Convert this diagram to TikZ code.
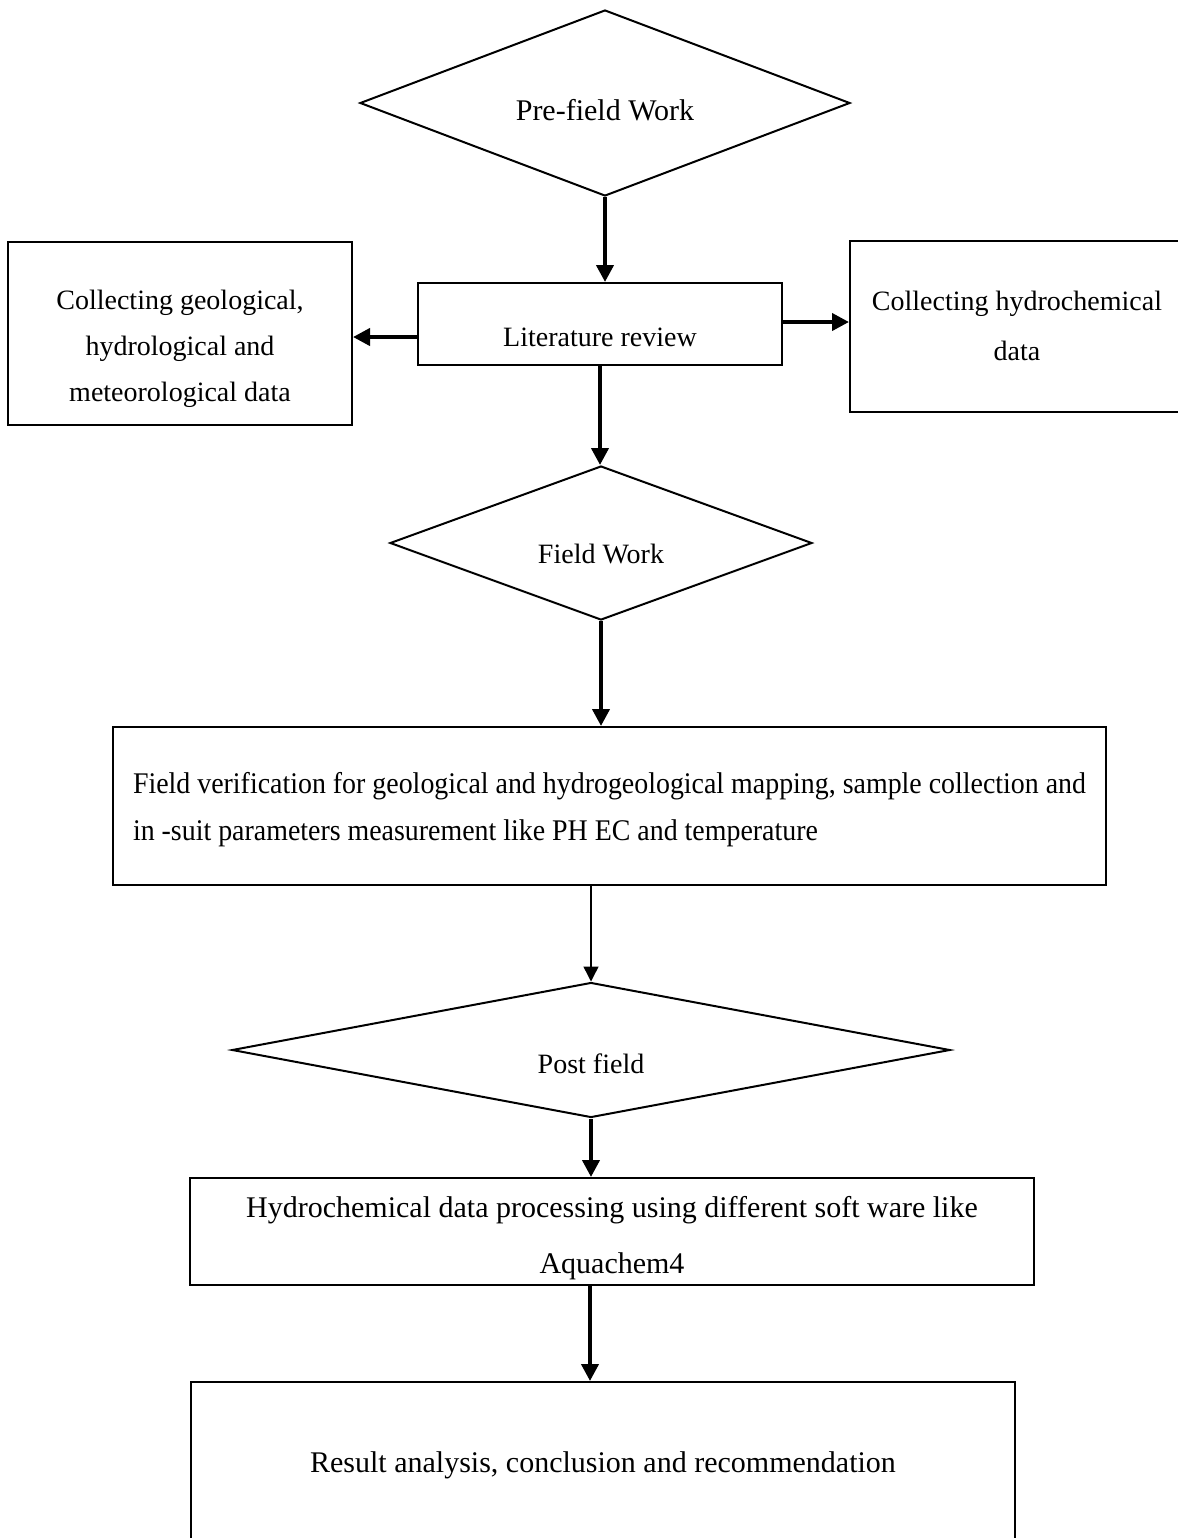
\documentclass[tikz,border=0pt]{standalone}
\usepackage{fontspec}
\setmainfont{Liberation Serif}
\newfontfamily\narrowfont[FakeStretch=0.93]{Liberation Serif}
\usetikzlibrary{shapes.geometric,arrows.meta}

\tikzset{
  box/.style={draw, line width=1pt, rectangle, inner sep=0pt, font=\fontsize{14}{23}\selectfont},
  decision/.style={draw, line width=1pt, diamond, inner sep=0pt, font=\fontsize{14}{23}\selectfont},
  arrow/.style={line width=2pt, -{Triangle[width=8.5pt,length=8.5pt]}},
  thinarrow/.style={line width=0.7pt, -{Triangle[width=7.5pt,length=7.5pt]}}
}

\begin{document}
\begin{tikzpicture}[x=0.5pt,y=-0.5pt]
  \useasboundingbox (0,0) rectangle (1178,1538);
  \clip (0,0) rectangle (1178,1538);
  \node[decision, aspect=2.6, minimum width=245pt, minimum height=93pt, text height=17.8pt, text depth=0pt, font=\fontsize{15}{18}\selectfont] (prefield) at (605,103) {Pre-field Work};
  \node[box, minimum width=182pt, minimum height=41pt, text height=22.4pt, text depth=0pt] (lit) at (600,324) {Literature review};
  \node[box, minimum width=172pt, minimum height=91.5pt, align=center] (geo) at (180,333.5) {\rule{0pt}{24.6pt}Collecting geological,\\hydrological and\\meteorological data};
  \node[box, minimum width=167pt, minimum height=85.5pt, align=center, font=\fontsize{14}{25}\selectfont] (hydro) at (1017,326) {Collecting hydrochemical\\data};
  \node[decision, aspect=2.74, minimum width=211pt, minimum height=77pt, text height=20.4pt, text depth=0pt] (field) at (601,543) {Field Work};
  \node[box, minimum width=496.5pt, minimum height=79pt, align=left, font=\narrowfont\fontsize{15}{23.5}\selectfont] (verify) at (609.5,806) {\rule{0pt}{14.2pt}Field verification for geological and hydrogeological mapping, sample collection and\\in -suit parameters measurement like PH EC and temperature};
  \node[decision, aspect=5.3, minimum width=359pt, minimum height=67.5pt, text height=23.4pt, text depth=0pt] (post) at (591,1050) {Post field};
  \node[box, minimum width=422pt, minimum height=53.5pt, align=center, font=\fontsize{15}{28}\selectfont] (process) at (612,1231.5) {\rule{0pt}{17.2pt}Hydrochemical data processing using different soft ware like\\Aquachem4};
  \node[box, minimum width=412pt, minimum height=89pt, text height=1.8pt, text depth=0pt, font=\fontsize{15}{18}\selectfont] (result) at (603,1471) {Result analysis, conclusion and recommendation};

  \draw[arrow] (prefield.south) -- (prefield.south |- lit.north);
  \draw[arrow] ([yshift=-6.5pt]lit.west) -- ([yshift=-6.5pt]lit.west -| geo.east);
  \draw[arrow] ([yshift=1pt]lit.east) -- ([yshift=1pt]lit.east -| hydro.west);
  \draw[arrow] (lit.south) -- (lit.south |- field.north);
  \draw[arrow] (field.south) -- (field.south |- verify.north);
  \draw[thinarrow] (verify.south -| post.north) -- (post.north);
  \draw[arrow] (post.south) -- (post.south |- process.north);
  \draw[arrow] ([xshift=-11pt]process.south) -- ([xshift=-11pt]process.south |- result.north);
\end{tikzpicture}
\end{document}
